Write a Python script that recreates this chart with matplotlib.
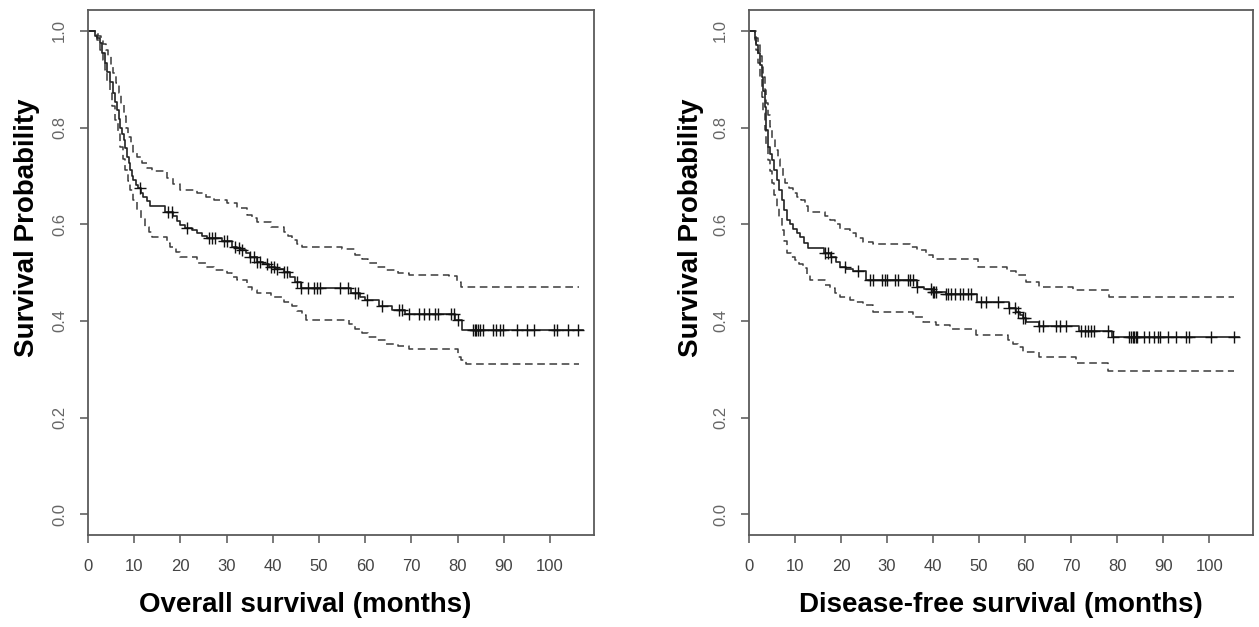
import numpy as np
import matplotlib
matplotlib.use("Agg")
import matplotlib.pyplot as plt

plt.rcParams['font.family'] = ['Liberation Sans', 'DejaVu Sans']

# ---- Overall survival (left) ----
os_time = [0, 1.5, 2.0, 2.6, 3.1, 3.7, 4.2, 4.8, 5.5, 5.9, 6.2, 6.6, 6.9, 7.3, 7.7,
           8.0, 8.4, 8.8, 9.1, 9.5, 9.8, 10.3, 10.9, 11.5, 12.0, 12.7, 13.4, 16.6,
           18.5, 19.3, 20.0, 21.0, 22.5, 23.6, 24.7, 25.7, 29.0, 31.2, 32.3, 33.0,
           34.2, 35.1, 36.6, 37.8, 39.1, 40.5, 42.4, 43.8, 44.9, 46.0, 57.0, 58.8,
           60.0, 62.9, 65.8, 68.7, 79.5, 81.0]
os_surv = [1.0, 0.99, 0.985, 0.975, 0.955, 0.934, 0.915, 0.895, 0.871, 0.853, 0.836, 0.818, 0.80, 0.787, 0.774,
           0.757, 0.74, 0.726, 0.712, 0.70, 0.691, 0.682, 0.674, 0.665, 0.657, 0.648, 0.638, 0.626,
           0.616, 0.607, 0.598, 0.592, 0.587, 0.582, 0.576, 0.571, 0.566, 0.553, 0.55, 0.547,
           0.54, 0.532, 0.522, 0.517, 0.512, 0.507, 0.502, 0.491, 0.481, 0.469, 0.457, 0.45,
           0.443, 0.431, 0.422, 0.414, 0.402, 0.382]
os_end = 107.2

os_up_time = [0, 2.2, 2.8, 3.3, 3.9, 4.4, 5.0, 5.5, 6.0, 6.6, 7.1, 7.7, 8.2, 8.7, 9.2,
              9.8, 10.7, 11.6, 12.7, 13.8, 17.0, 18.5, 20.0, 23.6, 25.5, 27.2, 30.1,
              32.3, 34.4, 35.5, 36.6, 39.5, 42.4, 43.3, 44.2, 45.3, 46.4, 55.0, 57.8,
              59.2, 60.7, 62.5, 64.4, 67.0, 69.5, 78.2, 79.8, 80.8]
os_up = [1.0, 0.99, 0.985, 0.973, 0.96, 0.947, 0.93, 0.912, 0.892, 0.871, 0.847, 0.823, 0.80, 0.781, 0.765,
         0.75, 0.738, 0.726, 0.717, 0.709, 0.695, 0.683, 0.671, 0.664, 0.657, 0.65, 0.643,
         0.633, 0.619, 0.612, 0.605, 0.595, 0.584, 0.575, 0.567, 0.558, 0.552, 0.548, 0.536,
         0.528, 0.519, 0.512, 0.505, 0.50, 0.495, 0.493, 0.48, 0.471]
os_lo_time = [0, 1.5, 2.0, 2.6, 3.2, 3.7, 4.2, 4.8, 5.3, 5.9, 6.4, 6.9, 7.5, 8.0, 8.6,
              9.1, 9.8, 10.6, 11.5, 12.4, 13.1, 13.8, 17.0, 17.8, 19.0, 20.0, 23.6,
              25.5, 27.2, 30.1, 31.2, 32.3, 34.4, 35.5, 36.6, 39.5, 42.4, 44.2, 45.3,
              46.4, 47.2, 56.5, 57.8, 59.2, 60.7, 62.5, 64.4, 67.0, 69.5, 80.0, 80.8, 81.9]
os_lo = [1.0, 0.995, 0.98, 0.961, 0.94, 0.919, 0.895, 0.871, 0.845, 0.816, 0.79, 0.76, 0.735, 0.712, 0.69,
         0.671, 0.65, 0.63, 0.612, 0.595, 0.584, 0.574, 0.562, 0.553, 0.543, 0.533, 0.519,
         0.512, 0.505, 0.498, 0.49, 0.484, 0.47, 0.464, 0.457, 0.45, 0.44, 0.43, 0.42,
         0.412, 0.402, 0.393, 0.384, 0.375, 0.367, 0.36, 0.353, 0.348, 0.342, 0.325, 0.319, 0.311]
os_ci_end = 106.2

os_cens = [11.3, 17.4, 18.2, 21.4, 26.1, 26.8, 27.5, 29.4, 30.1, 31.9, 32.6, 33.3, 35.1,
           35.9, 36.6, 37.3, 38.8, 39.5, 40.2, 40.9, 42.4, 43.1, 45.3, 46.1, 47.6, 48.9,
           49.6, 50.3, 54.5, 56.3, 57.8, 58.5, 60.3, 63.6, 67.3, 68.0, 69.5, 71.7, 72.8,
           73.9, 75.0, 75.7, 78.6, 79.3, 80.0, 83.3, 83.7, 84.0, 84.4, 84.8, 85.5, 87.7,
           88.4, 89.2, 89.9, 92.8, 95.0, 96.5, 100.9, 101.6, 103.8, 106.0]

# ---- Disease-free survival (right) ----
dfs_time = [0, 1.3, 1.6, 2.0, 2.4, 2.8, 3.1, 3.5, 3.8, 4.2, 4.5, 4.9, 5.4, 6.0, 6.5,
            7.1, 7.6, 8.2, 8.9, 9.6, 10.4, 11.1, 12.0, 12.9, 16.3, 17.9, 18.8, 19.7,
            21.0, 22.5, 25.5, 36.4, 38.0, 40.0, 42.9, 49.6, 56.5, 58.0, 58.8, 59.5,
            60.2, 63.1, 71.8, 78.8]
dfs_surv = [1.0, 0.985, 0.97, 0.954, 0.93, 0.905, 0.875, 0.843, 0.795, 0.76, 0.745, 0.733, 0.712, 0.691, 0.67,
            0.65, 0.63, 0.609, 0.60, 0.591, 0.582, 0.574, 0.562, 0.55, 0.54, 0.533, 0.522, 0.512,
            0.508, 0.503, 0.484, 0.471, 0.466, 0.46, 0.455, 0.438, 0.426, 0.419, 0.412, 0.405,
            0.398, 0.389, 0.38, 0.367]
dfs_end = 106.5

dfs_up_time = [0, 1.6, 2.0, 2.4, 2.8, 3.1, 3.5, 3.8, 4.2, 4.6, 5.1, 5.6, 6.2, 6.7, 7.3,
               7.8, 8.7, 9.6, 10.5, 11.4, 12.2, 12.9, 16.5, 17.6, 18.6, 19.7, 21.9,
               23.3, 24.8, 27.0, 35.0, 36.6, 38.5, 40.0, 49.7, 56.0, 58.1, 60.2, 63.1,
               70.4, 78.3]
dfs_up = [1.0, 0.985, 0.97, 0.947, 0.925, 0.905, 0.878, 0.85, 0.826, 0.802, 0.778, 0.754, 0.735, 0.719, 0.70,
          0.685, 0.674, 0.664, 0.657, 0.65, 0.638, 0.626, 0.617, 0.609, 0.60, 0.591, 0.581,
          0.572, 0.564, 0.558, 0.553, 0.547, 0.536, 0.529, 0.512, 0.504, 0.495, 0.481, 0.471,
          0.464, 0.449]
dfs_lo_time = [0, 1.3, 1.6, 2.0, 2.4, 2.8, 3.1, 3.5, 3.8, 4.2, 4.5, 4.9, 5.4, 6.0, 6.5,
               7.1, 7.6, 8.2, 9.1, 10.0, 10.9, 11.8, 12.5, 13.2, 16.5, 17.6, 18.6, 19.7,
               21.9, 23.3, 24.8, 27.0, 35.6, 37.8, 40.7, 43.6, 49.4, 56.2, 57.3, 58.4,
               59.5, 63.1, 71.0, 77.9]
dfs_lo = [1.0, 0.98, 0.96, 0.933, 0.90, 0.864, 0.83, 0.795, 0.765, 0.733, 0.71, 0.685, 0.66, 0.636, 0.612,
          0.588, 0.565, 0.54, 0.533, 0.526, 0.518, 0.509, 0.497, 0.484, 0.475, 0.467, 0.458, 0.45,
          0.443, 0.438, 0.433, 0.419, 0.408, 0.398, 0.391, 0.384, 0.37, 0.36, 0.353, 0.345,
          0.336, 0.326, 0.312, 0.297]
dfs_ci_end = 105.3

dfs_cens = [16.5, 17.2, 17.9, 20.8, 23.7, 26.2, 26.9, 28.8, 29.5, 29.9, 31.7, 32.4, 34.6,
            35.0, 35.6, 36.4, 39.6, 40.0, 40.3, 40.6, 42.9, 43.2, 44.0, 44.7, 45.8, 46.5,
            47.6, 48.3, 50.5, 51.6, 54.1, 56.6, 57.7, 58.4, 59.5, 59.9, 63.1, 63.8, 66.7,
            67.5, 68.9, 72.2, 72.9, 73.6, 74.3, 75.0, 77.9, 79.0, 82.6, 83.0, 83.4, 83.7,
            84.1, 84.4, 85.9, 87.0, 88.1, 88.8, 89.2, 91.0, 92.8, 95.0, 95.7, 100.4, 105.4]

x_ticks = [0, 10, 20, 30, 40, 50, 60, 70, 80, 90, 100]
y_ticks = [0.0, 0.2, 0.4, 0.6, 0.8, 1.0]


def step_line(ax, t, s, end, **kw):
    ax.step(list(t) + [end], list(s) + [s[-1]], where='post', **kw)


def km_panel(ax, t, s, end, ut, us, lt, ls, ci_end, cens, xlabel, xlab_x, ylab_x):
    dash = (0, (5, 3))
    step_line(ax, ut, us, ci_end, color='#3a3a3a', lw=1.1, linestyle=dash)
    step_line(ax, lt, ls, ci_end, color='#3a3a3a', lw=1.1, linestyle=dash)
    step_line(ax, t, s, end, color='#222222', lw=1.2)
    idx = np.searchsorted(t, cens, side='right') - 1
    ax.plot(cens, np.array(s)[idx], linestyle='none', marker='+', ms=8.5, mew=1.0,
            color='#111111')

    ax.set_xlim(0, 109.5)
    ax.set_ylim(-0.043, 1.043)
    ax.set_xticks(x_ticks)
    ax.set_yticks(y_ticks)
    ax.set_xticklabels([str(v) for v in x_ticks], fontsize=12, color='#444444')
    ax.set_yticklabels([f"{v:.1f}" for v in y_ticks], fontsize=12, color='#666666',
                       rotation=90, va='center')
    ax.tick_params(axis='x', length=6, width=1.1, color='#555555', pad=11)
    ax.tick_params(axis='y', length=6, width=1.1, color='#555555', pad=9)
    for sp in ax.spines.values():
        sp.set_color('#5a5a5a')
        sp.set_linewidth(1.3)
    ax.set_xlabel(xlabel, fontsize=20, fontweight='bold', va='center')
    ax.set_ylabel('Survival Probability', fontsize=20, fontweight='bold', va='center')
    ax.xaxis.set_label_coords(xlab_x, -0.133)
    ax.yaxis.set_label_coords(ylab_x, 0.585)


fig = plt.figure(figsize=(12.59, 6.27), dpi=100)
ax1 = fig.add_axes([0.0699, 0.1467, 0.4019, 0.8373])
ax2 = fig.add_axes([0.5949, 0.1467, 0.4003, 0.8373])

km_panel(ax1, os_time, os_surv, os_end, os_up_time, os_up, os_lo_time, os_lo,
         os_ci_end, os_cens, 'Overall survival (months)', 0.429, -0.12)
km_panel(ax2, dfs_time, dfs_surv, dfs_end, dfs_up_time, dfs_up, dfs_lo_time, dfs_lo,
         dfs_ci_end, dfs_cens, 'Disease-free survival (months)', 0.5, -0.115)

fig.savefig('out.png', dpi=100)
